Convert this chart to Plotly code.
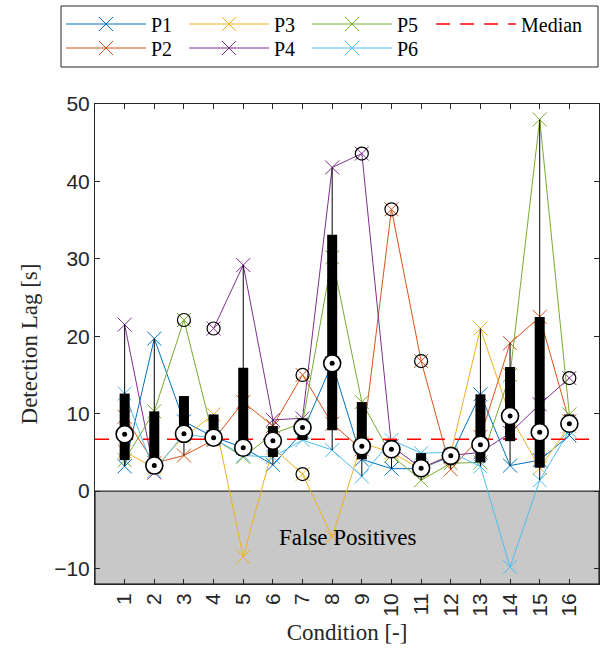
import numpy as np
import plotly.graph_objects as go

# ---------------- data ----------------
conditions = list(range(1, 17))
tick_labels = [str(c) for c in conditions]

P1 = [3.2, 19.7, 9.0, 7.0, 5.6, 3.4, 7.6, 16.5, 4.1, 2.9, 2.9, 4.5, 12.5, 3.3, 4.0, 7.2]
P2 = [9.6, 3.6, 4.6, 6.6, 11.5, 8.4, 15.0, 8.7, 5.4, 36.4, 16.8, 2.8, 7.0, 19.1, 22.5, 9.0]
P3 = [5.1, 3.0, 7.0, 9.9, -8.5, 5.6, 2.2, -5.9, 6.2, 5.0, 2.8, 4.8, 21.0, 9.7, 3.0, 8.4]
P4 = [21.5, 2.4, None, 21.0, 29.2, 9.2, 9.4, 41.8, 43.6, 5.8, 3.0, 4.6, 5.0, 7.5, 11.2, 14.6]
P5 = [4.0, 10.3, 22.1, 6.8, 4.4, 7.4, 8.8, 30.2, 11.5, 4.6, 1.4, 3.6, 3.7, 15.0, 48.0, 9.9]
P6 = [12.6, 2.6, 7.4, 6.8, 4.6, 4.4, 6.6, 5.3, 1.9, 6.6, 4.9, 5.0, 3.2, -9.8, 1.4, 7.8]

participants = ["P1", "P2", "P3", "P4", "P5", "P6"]
series = [P1, P2, P3, P4, P5, P6]
colors = ["#0072BD", "#D95319", "#EDB120", "#7E2F8E", "#77AC30", "#4DBEEE"]
# legend layout: P1 P3 P5 Median on the first row, P2 P4 P6 on the second
legend_of = {"P1": "legend", "P3": "legend", "P5": "legend",
             "P2": "legend2", "P4": "legend2", "P6": "legend2", "Median": "legend3"}

median_lag = 6.7          # overall median line
y_ticks = [-10, 0, 10, 20, 30, 40, 50]

SERIF = "Liberation Serif"
SANS = "Liberation Sans"
AXC = "#262626"

# plot-area geometry in pixels (for paper conversions of the legend)
W, H = 600, 655
ML, MR, MT, MB = 95, 1, 104, 71
PW, PH = W - ML - MR, H - MT - MB


def px_to_paper_x(px):
    return (px - ML) / PW


def px_to_paper_y(py):
    return (H - MB - py) / PH


# ---------------- box statistics (MATLAB style, positive lags only) ----------------
def prctile(xs, p):
    n = len(xs)
    pos = 100.0 * (np.arange(1, n + 1) - 0.5) / n
    if p <= pos[0]:
        return xs[0]
    if p >= pos[-1]:
        return xs[-1]
    return float(np.interp(p, pos, xs))


box_x, box_y, wh_x, wh_y = [], [], [], []
med_x, med_y, out_x, out_y = [], [], [], []
for i, c in enumerate(conditions):
    vals = np.sort([s[i] for s in series if s[i] is not None and s[i] > 0])
    q1, q2, q3 = prctile(vals, 25), prctile(vals, 50), prctile(vals, 75)
    iqr = q3 - q1
    inside = vals[(vals >= q1 - 1.5 * iqr) & (vals <= q3 + 1.5 * iqr)]
    lo, hi = inside.min(), inside.max()
    wh_x += [c, c, None]
    wh_y += [lo, hi, None]
    box_x += [c, c, None]
    box_y += [q1, q3, None]
    med_x.append(c)
    med_y.append(q2)
    for v in vals:
        if v < lo or v > hi:
            out_x.append(c)
            out_y.append(v)

fig = go.Figure()

# participant traces
for name, vals, col in zip(participants, series, colors):
    fig.add_trace(go.Scatter(
        x=conditions, y=vals, name=name, mode="lines+markers",
        line=dict(color=col, width=1),
        marker=dict(symbol="x-thin", size=14, color=col, line=dict(color=col, width=1)),
        legend=legend_of[name],
    ))

# overall median line
fig.add_trace(go.Scatter(
    x=[0, 17], y=[median_lag, median_lag], name="Median", mode="lines",
    line=dict(color="#FF0000", width=1.3, dash="14px,10px"),
    legend=legend_of["Median"],
))

# whiskers
fig.add_trace(go.Scatter(x=wh_x, y=wh_y, mode="lines", showlegend=False,
                         line=dict(color="black", width=1)))
# boxes
fig.add_trace(go.Scatter(x=box_x, y=box_y, mode="lines", showlegend=False,
                         line=dict(color="black", width=10)))
# outliers
fig.add_trace(go.Scatter(x=out_x, y=out_y, mode="markers", showlegend=False,
                         marker=dict(symbol="circle-open", size=13, color="black",
                                     line=dict(color="black", width=1.2))))
# medians
fig.add_trace(go.Scatter(x=med_x, y=med_y, mode="markers", showlegend=False,
                         marker=dict(symbol="circle", size=17, color="white",
                                     line=dict(color="black", width=1.6))))
fig.add_trace(go.Scatter(x=med_x, y=med_y, mode="markers", showlegend=False,
                         marker=dict(symbol="circle", size=5, color="black")))

# false positive region
fig.add_shape(type="rect", xref="x domain", yref="y", x0=0, x1=1, y0=-12, y1=0,
              fillcolor="#C8C8C8", line=dict(color="black", width=1), layer="below")
fig.add_annotation(x=8.5, y=-6, xref="x", yref="y", text="False Positives",
                   showarrow=False, font=dict(family=SERIF, size=23, color="black"))

# legend frame
fig.add_shape(type="rect", xref="paper", yref="paper",
              x0=px_to_paper_x(61), x1=px_to_paper_x(598),
              y0=px_to_paper_y(67), y1=px_to_paper_y(6),
              line=dict(color=AXC, width=1), fillcolor="rgba(0,0,0,0)")

leg_common = dict(orientation="h", xanchor="left", yanchor="top",
                  borderwidth=0, bgcolor="rgba(0,0,0,0)",
                  font=dict(family=SERIF, size=20, color="black"),
                  itemwidth=80, tracegroupgap=0)

fig.update_layout(
    width=W, height=H,
    margin=dict(l=ML, r=MR, t=MT, b=MB),
    plot_bgcolor="white", paper_bgcolor="white",
    showlegend=True,
    legend=dict(x=px_to_paper_x(61), y=px_to_paper_y(4.5), entrywidth=28, **leg_common),
    legend2=dict(x=px_to_paper_x(61), y=px_to_paper_y(28.5), entrywidth=28, **leg_common),
    legend3=dict(x=px_to_paper_x(431), y=px_to_paper_y(4.5), **leg_common),
    xaxis=dict(range=[0, 17], tickvals=conditions, ticktext=tick_labels, tickangle=-90,
               ticks="inside", ticklen=5, tickcolor=AXC, showline=True, linecolor=AXC,
               linewidth=1, mirror="ticks", showgrid=False, zeroline=False,
               tickfont=dict(family=SANS, size=21, color=AXC),
               title=dict(text="Condition [-]", standoff=8,
                          font=dict(family=SERIF, size=23, color=AXC))),
    yaxis=dict(range=[-12, 50], tickvals=y_ticks, ticks="inside", ticklen=5,
               tickcolor=AXC, showline=True, linecolor=AXC, linewidth=1, mirror="ticks",
               showgrid=False, zeroline=False,
               tickfont=dict(family=SANS, size=21, color=AXC),
               title=dict(text="Detection Lag [s]", standoff=10,
                          font=dict(family=SERIF, size=23, color=AXC))),
)

fig.write_html("out.html")
